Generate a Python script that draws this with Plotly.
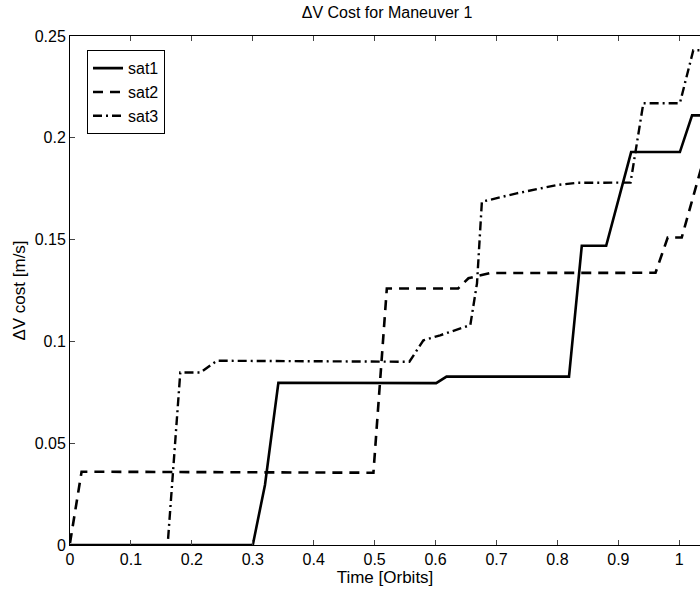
import plotly.graph_objects as go

# sat1 (solid)
sat1_t = [0.0, 0.30, 0.32, 0.342, 0.601, 0.618, 0.819, 0.840, 0.880, 0.921, 1.001, 1.021, 1.05]
sat1_v = [0.0, 0.0, 0.0295, 0.0797, 0.0795, 0.0827, 0.0827, 0.147, 0.147, 0.193, 0.193, 0.211, 0.211]

# sat2 (dashed)
sat2_t = [0.0, 0.019, 0.498, 0.520, 0.637, 0.654, 0.690, 0.961, 0.981, 1.004, 1.034, 1.045]
sat2_v = [0.001, 0.036, 0.0355, 0.126, 0.126, 0.131, 0.1336, 0.1337, 0.151, 0.151, 0.183, 0.195]

# sat3 (dash-dot)
sat3_t = [0.161, 0.181, 0.214, 0.241, 0.557, 0.580, 0.6075, 0.657, 0.668, 0.676, 0.733, 0.799, 0.832, 0.920, 0.941, 1.001, 1.023, 1.05]
sat3_v = [0.003, 0.0847, 0.0847, 0.0905, 0.0900, 0.1005, 0.103, 0.108, 0.1285, 0.1686, 0.1727, 0.1768, 0.1779, 0.178, 0.217, 0.217, 0.243, 0.243]

x_ticks = [0, 0.1, 0.2, 0.3, 0.4, 0.5, 0.6, 0.7, 0.8, 0.9, 1]
y_ticks = [0, 0.05, 0.1, 0.15, 0.2, 0.25]

font_family = "Liberation Sans, Arial, sans-serif"

fig = go.Figure()
fig.add_trace(go.Scatter(x=sat1_t, y=sat1_v, mode="lines", name="sat1",
                         line=dict(color="black", width=2.6)))
fig.add_trace(go.Scatter(x=sat2_t, y=sat2_v, mode="lines", name="sat2",
                         line=dict(color="black", width=2.6, dash="10px,7px")))
fig.add_trace(go.Scatter(x=sat3_t, y=sat3_v, mode="lines", name="sat3",
                         line=dict(color="black", width=2.4, dash="9px,4px,2px,4px")))

fig.update_layout(
    width=700, height=593,
    margin=dict(l=70, r=0, t=36, b=48),
    paper_bgcolor="white", plot_bgcolor="white",
    font=dict(family=font_family, size=16, color="black"),
    title=dict(text="ΔV Cost for Maneuver 1", x=0.553, xanchor="center",
               y=0.988, yanchor="top", font=dict(size=16)),
    showlegend=True,
    legend=dict(x=0.027, y=0.972, xanchor="left", yanchor="top",
                bordercolor="black", borderwidth=1, bgcolor="white",
                font=dict(size=16), tracegroupgap=0, itemwidth=30),
)
fig.update_xaxes(range=[0, 1.034], tickvals=x_ticks, ticks="inside", ticklen=5,
                 showline=True, linecolor="black", linewidth=1, mirror="ticks",
                 showgrid=False, zeroline=False,
                 title=dict(text="Time [Orbits]", font=dict(size=17), standoff=0),
                 tickfont=dict(size=16))
fig.update_yaxes(range=[0, 0.25], tickvals=y_ticks, ticks="inside", ticklen=5,
                 showline=True, linecolor="black", linewidth=1, mirror=False,
                 showgrid=False, zeroline=False,
                 title=dict(text="ΔV cost [m/s]", font=dict(size=17), standoff=4),
                 tickfont=dict(size=16))

fig.write_html("out.html")
